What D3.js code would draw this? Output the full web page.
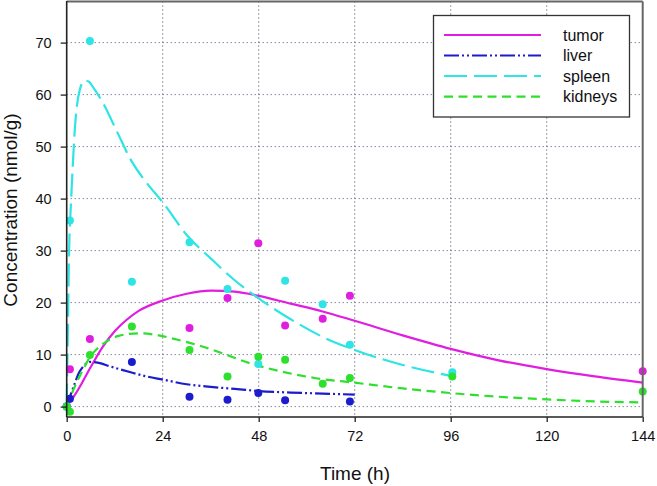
<!DOCTYPE html>
<html><head><meta charset="utf-8">
<script src="https://cdn.jsdelivr.net/npm/d3@7"></script>
<style>
html,body{margin:0;padding:0;background:#fff;}
svg{display:block;font-family:Arial,"Liberation Sans",sans-serif;}
</style></head>
<body><svg id="c" width="657" height="486"></svg>
<script>
// ---- data ----
const series = ["tumor", "liver", "spleen", "kidneys"];
const xTicks = [0, 24, 48, 72, 96, 120, 144];
const yTicks = [0, 10, 20, 30, 40, 50, 60, 70];

// observed points [time, value]
const tumorPts = [[0,0],[0.8,7.2],[5.8,13.0],[30.7,15.1],[40.2,20.9],[47.9,31.4],[54.6,15.6],[64,16.9],[70.8,21.3],[144,6.8]];
const liverPts = [[0,0],[0.8,1.5],[16.3,8.6],[30.7,1.9],[40.2,1.3],[47.9,2.6],[54.6,1.2],[70.8,1.0]];
const spleenPts = [[0,0],[0.8,35.8],[5.8,70.3],[16.3,24.0],[30.7,31.6],[40.2,22.6],[47.9,8.2],[54.6,24.2],[64,19.7],[70.8,11.9],[96.4,6.6]];
const kidneysPts = [[0,0],[0.8,-1.0],[5.8,9.9],[16.3,15.4],[30.7,10.9],[40.2,5.8],[47.9,9.6],[54.6,9.0],[64,4.4],[70.8,5.5],[96.4,5.8],[144,2.9]];

// fitted curves [time, value]
const tumorFit = [[0,0],[2,2.2],[4,4.8],[6,7.6],[9,11.5],[12,14.5],[15,16.7],[18,18.4],[24,20.4],[30,21.7],[36,22.3],[42,22.1],[48,21.3],[56,19.8],[64,18.3],[72,16.5],[84,13.7],[96,11.1],[108,8.9],[120,7.2],[132,5.8],[144,4.6]];
const liverFit = [[0,0],[1,2.3],[2,4.4],[3,6.4],[4,7.6],[6,8.6],[8,8.4],[11,7.7],[16,6.6],[20,5.8],[24,5.2],[30,4.3],[36,3.8],[42,3.4],[48,3.0],[56,2.7],[64,2.5],[72,2.3]];
const spleenFit = [[0,0],[0.3,15],[0.6,30],[1,38],[1.5,46],[2,53],[2.5,57.5],[3.3,61],[4.5,62.7],[5.5,62.5],[6.7,61.3],[9,58.5],[12.5,53],[16,47.5],[20,43],[24,39.3],[30,33.0],[36,28.5],[42,24.3],[48,20.8],[56,16.8],[64,13.4],[72,10.9],[84,8.0],[96,5.9]];
const kidneysFit = [[0,0],[2,3.8],[4,7.0],[6,9.7],[9,12.0],[13,13.6],[18,14.1],[23,13.7],[28,12.8],[32,12.0],[38,10.5],[46,8.3],[54,6.7],[62,5.5],[72,4.6],[84,3.5],[96,2.6],[108,1.9],[120,1.4],[132,1.0],[144,0.8]];

const colors = {tumor:"#e01ee0", liver:"#1c1ccc", spleen:"#2ee4e4", kidneys:"#2ee02e"};
const dashes = {tumor:null, liver:"15,3,2,3,2,3", spleen:"23,7", kidneys:"9,5.5"};
const fits = {tumor:tumorFit, liver:liverFit, spleen:spleenFit, kidneys:kidneysFit};
const pts = {tumor:tumorPts, liver:liverPts, spleen:spleenPts, kidneys:kidneysPts};

// ---- chart ----
const svg = d3.select("#c");
const L = 66.7, R = 642.7, T = 1.5, B = 417;
const x = d3.scaleLinear().domain([0,144]).range([L,R]);
const y = d3.scaleLinear().domain([-2,78]).range([B,1]);

// grid
const g = svg.append("g");
g.selectAll(".vg").data(xTicks.filter(t=>t>0&&t<144)).join("line")
  .attr("x1",d=>x(d)).attr("x2",d=>x(d)).attr("y1",T).attr("y2",B)
  .attr("stroke","#444").attr("stroke-width",1).attr("stroke-dasharray","1,3");
g.selectAll(".hg").data(yTicks).join("line")
  .attr("x1",L).attr("x2",R).attr("y1",d=>y(d)).attr("y2",d=>y(d))
  .attr("stroke","#50507a").attr("stroke-width",1).attr("stroke-dasharray","1,3");

// curves
const line = d3.line().x(d=>x(d[0])).y(d=>y(d[1])).curve(d3.curveMonotoneX);
series.forEach(s=>{
  svg.append("path").datum(fits[s]).attr("d",line)
    .attr("fill","none").attr("stroke",colors[s]).attr("stroke-width",2.2)
    .attr("stroke-dasharray",dashes[s]);
});
// points
series.forEach(s=>{
  svg.append("g").selectAll("circle").data(pts[s]).join("circle")
    .attr("cx",d=>x(d[0])).attr("cy",d=>y(d[1])).attr("r",4)
    .attr("fill",colors[s]);
});

// frame
svg.append("line").attr("x1",L).attr("x2",R).attr("y1",T).attr("y2",T).attr("stroke","#666").attr("stroke-width",2);
svg.append("line").attr("x1",R).attr("x2",R).attr("y1",T).attr("y2",B).attr("stroke","#666").attr("stroke-width",2);

// axes
const xa = svg.append("g").attr("transform",`translate(0,${B})`)
  .call(d3.axisBottom(x).tickValues(xTicks).tickSize(5).tickSizeOuter(0).tickFormat(d3.format("d")));
const ya = svg.append("g").attr("transform",`translate(${L},0)`)
  .call(d3.axisLeft(y).tickValues(yTicks).tickSize(6).tickSizeOuter(0).tickFormat(d3.format("d")));
[xa,ya].forEach(a=>{
  a.select(".domain").remove();
  a.selectAll(".tick line").attr("stroke","#222").attr("stroke-width",1.3);
  a.selectAll(".tick text").attr("fill","#111").style("font-size","14.5px").style("font-family","Arial, 'Liberation Sans', sans-serif");
});
xa.selectAll(".tick text").attr("y",14);
ya.selectAll(".tick text").attr("x",-15);
svg.append("line").attr("x1",L).attr("x2",R).attr("y1",B).attr("y2",B).attr("stroke","#222").attr("stroke-width",1.6);
svg.append("line").attr("x1",L).attr("x2",L).attr("y1",T-0.5).attr("y2",B).attr("stroke","#222").attr("stroke-width",1.6);

// titles
svg.append("text").attr("x",355).attr("y",480).attr("text-anchor","middle")
  .style("font-size","19px").attr("fill","#111").text("Time (h)");
svg.append("text").attr("transform","translate(17,210) rotate(-90)").attr("text-anchor","middle")
  .style("font-size","19px").attr("fill","#111").text("Concentration (nmol/g)");

// legend
const lg = svg.append("g");
lg.append("rect").attr("x",433.5).attr("y",15.5).attr("width",196).attr("height",101.5)
  .attr("fill","#fff").attr("stroke","#333").attr("stroke-width",1.3);
const rowY = [35, 55.5, 76, 96.7];
series.forEach((s,i)=>{
  lg.append("line").attr("x1",444).attr("x2",541).attr("y1",rowY[i]).attr("y2",rowY[i])
    .attr("stroke",colors[s]).attr("stroke-width",2.2).attr("stroke-dasharray",dashes[s]);
  lg.append("text").attr("x",563).attr("y",rowY[i]).attr("dy","0.35em")
    .style("font-size","16px").attr("fill","#111").text(s);
});
</script></body></html>
